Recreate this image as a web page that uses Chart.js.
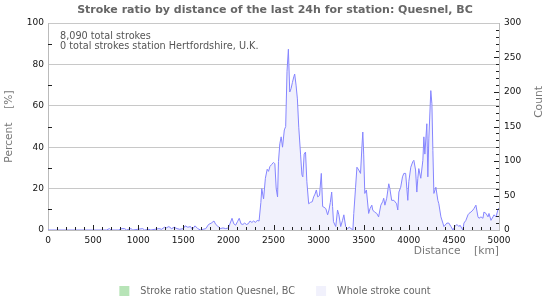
<!DOCTYPE html>
<html>
<head>
<meta charset="utf-8">
<script src="https://cdn.jsdelivr.net/npm/chart.js@4.4.0/dist/chart.umd.min.js"></script>
<style>
  html, body { margin: 0; padding: 0; background: #fff; }
</style>
</head>
<body>
<canvas id="myChart" width="550" height="300"></canvas>
<script>
// distance bins in km and whole stroke count
const distances = [
  0, 650, 680, 700, 780, 820, 850, 870, 920, 940,
  1050, 1070, 1120, 1140, 1230, 1260, 1290, 1310, 1340, 1370,
  1400, 1430, 1460, 1500, 1520, 1550, 1580, 1600, 1630, 1660,
  1690, 1720, 1750, 1780, 1810, 1840, 1860, 1880, 1910, 1940,
  1970, 2000, 2020, 2040, 2060, 2080, 2100, 2120, 2140, 2160,
  2180, 2200, 2220, 2240, 2260, 2280, 2300, 2320, 2340, 2360,
  2370, 2390, 2410, 2430, 2445, 2460, 2480, 2500, 2515, 2530,
  2545, 2555, 2570, 2585, 2600, 2620, 2635, 2650, 2665, 2680,
  2695, 2710, 2725, 2735, 2750, 2765, 2780, 2800, 2815, 2825,
  2840, 2855, 2870, 2890, 2910, 2930, 2945, 2960, 2975, 2990,
  3010, 3030, 3045, 3060, 3080, 3100, 3115, 3130, 3145, 3155,
  3165, 3190, 3210, 3225, 3245, 3265, 3280, 3300, 3320, 3340,
  3360, 3380, 3390, 3410, 3425, 3445, 3465, 3480, 3490, 3500,
  3512, 3530, 3555, 3570, 3590, 3600, 3620, 3645, 3665, 3690,
  3710, 3722, 3735, 3755, 3778, 3790, 3810, 3835, 3865, 3878,
  3890, 3910, 3930, 3945, 3965, 3989, 4000, 4022, 4044, 4056,
  4075, 4089, 4100, 4111, 4133, 4156, 4167, 4178, 4200, 4211,
  4222, 4244, 4256, 4267, 4278, 4300, 4322, 4333, 4356, 4378,
  4389, 4422, 4444, 4467, 4489, 4511, 4533, 4556, 4567, 4600,
  4611, 4633, 4656, 4667, 4689, 4711, 4722, 4744, 4767, 4778,
  4800, 4822, 4833, 4856, 4878, 4889, 4911, 4933, 4944, 4967,
  4989, 5000
];
const strokeCounts = [
  0, 0, 2, 0, 0, 2, 2, 0, 2, 0,
  2, 0, 1, 0, 2, 1, 4, 3, 5, 2,
  4, 2, 1, 2, 6, 4, 5, 1, 6, 2,
  0, 1, 2, 8, 10, 13, 8, 6, 2, 3,
  2, 3, 10, 17, 9, 7, 12, 17, 9, 8,
  10, 8, 9, 13, 11, 13, 11, 14, 13, 40,
  60, 45, 75, 88, 85, 92, 95, 98, 96, 60,
  48, 99, 125, 135, 120, 145, 150, 230, 262, 200,
  205, 214, 222, 226, 210, 190, 149, 110, 80, 77,
  110, 113, 70, 38, 40, 41, 48, 52, 58, 48,
  50, 82, 34, 33, 31, 22, 29, 40, 55, 34,
  12, 5, 29, 22, 5, 14, 22, 5, 2, 4,
  2, 0, 24, 62, 91, 87, 82, 120, 142, 110,
  53, 58, 24, 31, 36, 29, 26, 24, 19, 36,
  41, 46, 36, 46, 67, 60, 43, 43, 38, 29,
  55, 62, 77, 82, 82, 43, 70, 91, 99, 101,
  87, 55, 75, 89, 75, 101, 135, 110, 154, 77,
  132, 202, 183, 115, 53, 62, 43, 38, 19, 10,
  5, 10, 10, 5, 0, 5, 8, 5, 7, 0,
  10, 14, 22, 24, 26, 29, 31, 36, 19, 17,
  19, 17, 26, 24, 19, 24, 14, 19, 22, 19,
  30, 32
];
// station ratio: no strokes from the station, nothing drawn
const stationRatio = [];

const infoLines = ['8,090 total strokes', '0 total strokes station Hertfordshire, U.K.'];
const seriesNames = ['Stroke ratio station Quesnel, BC', 'Whole stroke count'];

const FONT = 'DejaVu Sans';

const extras = {
  id: 'extras',
  afterDraw(chart) {
    const ctx = chart.ctx, a = chart.chartArea;
    const x = chart.scales.x, yl = chart.scales.yPct, yr = chart.scales.yCount;
    ctx.save();
    ctx.strokeStyle = '#222';
    ctx.lineWidth = 1;
    ctx.beginPath();
    for (let d = 100; d < 5000; d += 100) {
      const px = Math.round(x.getPixelForValue(d)) + 0.5;
      const len = d % 500 === 0 ? 5 : 3;
      ctx.moveTo(px, a.bottom);
      ctx.lineTo(px, a.bottom - len);
    }
    for (let p = 10; p < 100; p += 20) {
      const py = Math.round(yl.getPixelForValue(p)) + 0.5;
      ctx.moveTo(a.left, py);
      ctx.lineTo(a.left + 4, py);
    }
    for (let c = 10; c < 300; c += 10) {
      const py = Math.round(yr.getPixelForValue(c)) + 0.5;
      const len = c % 50 === 0 ? 5 : 3;
      ctx.moveTo(a.right, py);
      ctx.lineTo(a.right - len, py);
    }
    ctx.stroke();

    ctx.fillStyle = '#555';
    ctx.font = '9.7px "' + FONT + '"';
    ctx.textBaseline = 'middle';
    ctx.textAlign = 'left';
    ctx.fillText(infoLines[0], a.left + 12, a.top + 13);
    ctx.fillText(infoLines[1], a.left + 12, a.top + 23);

    ctx.fillStyle = '#777';
    ctx.font = '10.7px "' + FONT + '"';
    ctx.translate(539, 102);
    ctx.rotate(-Math.PI / 2);
    ctx.textAlign = 'center';
    ctx.fillText('Count', 0, 0);
    ctx.restore();
  }
};

const config = {
  type: 'line',
  data: {
    datasets: [{
      label: seriesNames[0],
      data: stationRatio,
      yAxisID: 'yPct',
      backgroundColor: '#b7e4b7',
      borderColor: '#b7e4b7',
      borderWidth: 0,
      pointRadius: 0
    }, {
      label: seriesNames[1],
      data: distances.map((d, i) => ({x: d, y: strokeCounts[i]})),
      yAxisID: 'yCount',
      backgroundColor: '#f1f1fc',
      borderColor: '#8585ff',
      borderWidth: 1,
      pointRadius: 0,
      tension: 0,
      fill: 'origin'
    }]
  },
  options: {
    responsive: false,
    animation: false,
    layout: { padding: { left: 0, right: 0, top: 0, bottom: -6 } },
    plugins: {
      title: {
        display: true,
        text: 'Stroke ratio by distance of the last 24h for station: Quesnel, BC',
        color: '#666',
        font: { family: FONT, size: 11, weight: 'bold' },
        padding: { top: 4, bottom: 5.8 }
      },
      legend: {
        position: 'bottom',
        labels: {
          boxWidth: 10,
          boxHeight: 10,
          padding: 21,
          color: '#666',
          font: { family: FONT, size: 9.7 },
          generateLabels(chart) {
            return Chart.defaults.plugins.legend.labels.generateLabels(chart).map(l => {
              l.text = '  ' + l.text;
              l.lineWidth = 0;
              l.strokeStyle = l.fillStyle;
              return l;
            });
          }
        }
      },
      tooltip: { enabled: false }
    },
    scales: {
      x: {
        type: 'linear',
        min: 0,
        max: 5000,
        z: 1,
        afterFit(s) { s.height = 35; },
        grid: { display: false, drawTicks: false },
        border: { display: true, color: '#bbb' },
        ticks: { stepSize: 500, maxRotation: 0, autoSkip: false, padding: 5, color: '#111',
                 font: { family: FONT, size: 9 }, callback: v => String(v) },
        title: { display: true, text: 'Distance    [km]', align: 'end', color: '#777',
                 font: { family: FONT, size: 10.7 }, padding: { top: 0, bottom: 7 } }
      },
      yPct: {
        position: 'left',
        min: 0,
        max: 100,
        afterFit(s) { s.width = 48; },
        grid: { color: '#c8c8c8', drawTicks: false },
        border: { display: true, color: '#bbb' },
        ticks: { stepSize: 20, padding: 4, color: '#111', font: { family: FONT, size: 9 } },
        title: { display: true, text: 'Percent    [%]', color: '#777',
                 font: { family: FONT, size: 10.7 }, padding: { top: 3, bottom: 0 } }
      },
      yCount: {
        position: 'right',
        min: 0,
        max: 300,
        afterFit(s) { s.width = 51; },
        grid: { display: false, drawOnChartArea: false, drawTicks: false },
        border: { display: true, color: '#bbb' },
        ticks: { stepSize: 50, padding: 5, color: '#111', font: { family: FONT, size: 9 } }
      }
    }
  },
  plugins: [extras]
};

const myChart = new Chart(document.getElementById('myChart'), config);
</script>
</body>
</html>
